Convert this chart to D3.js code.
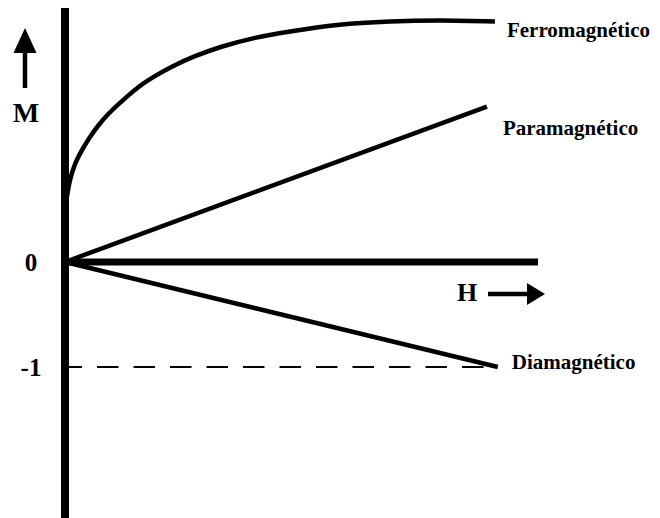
<!DOCTYPE html>
<html>
<head>
<meta charset="utf-8">
<script src="https://cdn.jsdelivr.net/npm/d3@7/dist/d3.min.js"></script>
<style>
  html, body { margin: 0; padding: 0; background: #fff; }
  svg { display: block; }
  text { font-family: "Liberation Serif", "Times New Roman", Times, serif; font-weight: bold; fill: #000; }
</style>
</head>
<body>
<svg id="chart" width="660" height="518"></svg>
<script>
// ---- data ----
const ferroH = [0, 0.106, 0.211, 0.353, 0.529, 0.705, 0.916, 1.198, 1.55, 1.90, 2.26, 2.75, 3.31, 4.02, 4.76, 5.81, 6.87, 7.93, 9.09];
const ferroM = [0.5, 0.78, 0.93, 1.06, 1.19, 1.30, 1.41, 1.53, 1.665, 1.77, 1.86, 1.96, 2.05, 2.135, 2.195, 2.26, 2.29, 2.30, 2.29];
const paraH = [0, 8.92];
const paraM = [0, 1.48];
const diaH = [0, 9.15];
const diaM = [0, -1];
const refLineM = -1;
const seriesNames = ["Ferromagnético", "Paramagnético", "Diamagnético"];
const tickValues = [0, -1];
const tickLabels = ["0", "-1"];
const axisLabelX = "H";
const axisLabelY = "M";
const xAxisMax = 10;
const yAxisExtent = [-2.45, 2.42];

// ---- scales ----
const x = d3.scaleLinear().domain([0, xAxisMax]).range([65, 538]);
const y = d3.scaleLinear().domain([-1, 0]).range([367, 262]);

const svg = d3.select("#chart");

// dashed reference line at M = -1
svg.append("line")
  .attr("x1", x(0)).attr("x2", x(diaH[1]))
  .attr("y1", y(refLineM)).attr("y2", y(refLineM))
  .attr("stroke", "#000").attr("stroke-width", 2)
  .attr("stroke-dasharray", "21.5 15").attr("stroke-dashoffset", 4.5);

// series lines
const zip = (hs, ms) => hs.map((h, i) => [h, ms[i]]);
const line = d3.line().x(d => x(d[0])).y(d => y(d[1]));
const ferroLine = d3.line().x(d => x(d[0])).y(d => y(d[1])).curve(d3.curveCatmullRom.alpha(0.5));

const series = [
  { name: seriesNames[0], pts: zip(ferroH, ferroM), gen: ferroLine, dx: 12, dy: 15 },
  { name: seriesNames[1], pts: zip(paraH, paraM), gen: line, dx: 16, dy: 28 },
  { name: seriesNames[2], pts: zip(diaH, diaM), gen: line, dx: 14, dy: 2 }
];

series.forEach(s => {
  svg.append("path")
    .attr("d", s.gen(s.pts))
    .attr("fill", "none").attr("stroke", "#000")
    .attr("stroke-width", 4.5).attr("stroke-linecap", "butt").attr("stroke-linejoin", "round");
  const last = s.pts[s.pts.length - 1];
  svg.append("text")
    .attr("x", x(last[0]) + s.dx).attr("y", y(last[1]) + s.dy)
    .attr("font-size", 21)
    .text(s.name);
});

// axes
svg.append("line")
  .attr("x1", x(0)).attr("x2", x(0))
  .attr("y1", y(yAxisExtent[1])).attr("y2", y(yAxisExtent[0]))
  .attr("stroke", "#000").attr("stroke-width", 8);
svg.append("line")
  .attr("x1", x(0)).attr("x2", x(xAxisMax))
  .attr("y1", y(0)).attr("y2", y(0))
  .attr("stroke", "#000").attr("stroke-width", 7);

// tick labels
tickValues.forEach((v, i) => {
  svg.append("text")
    .attr("x", 31).attr("y", y(v) + 9)
    .attr("text-anchor", "middle")
    .attr("font-size", 25)
    .text(tickLabels[i]);
});

// M label + up arrow
svg.append("text").attr("x", 26).attr("y", 122).attr("text-anchor", "middle")
  .attr("font-size", 28).text(axisLabelY);
svg.append("line").attr("x1", 25).attr("x2", 25).attr("y1", 88).attr("y2", 50)
  .attr("stroke", "#000").attr("stroke-width", 4.5);
svg.append("path").attr("d", "M25,28 L36.5,53 L13.5,53 Z").attr("fill", "#000");

// H label + right arrow
svg.append("text").attr("x", 467).attr("y", 301).attr("text-anchor", "middle")
  .attr("font-size", 26).text(axisLabelX);
svg.append("line").attr("x1", 488).attr("x2", 529).attr("y1", 294).attr("y2", 294)
  .attr("stroke", "#000").attr("stroke-width", 4.5);
svg.append("path").attr("d", "M545,294 L527,283 L527,305 Z").attr("fill", "#000");
</script>
</body>
</html>
